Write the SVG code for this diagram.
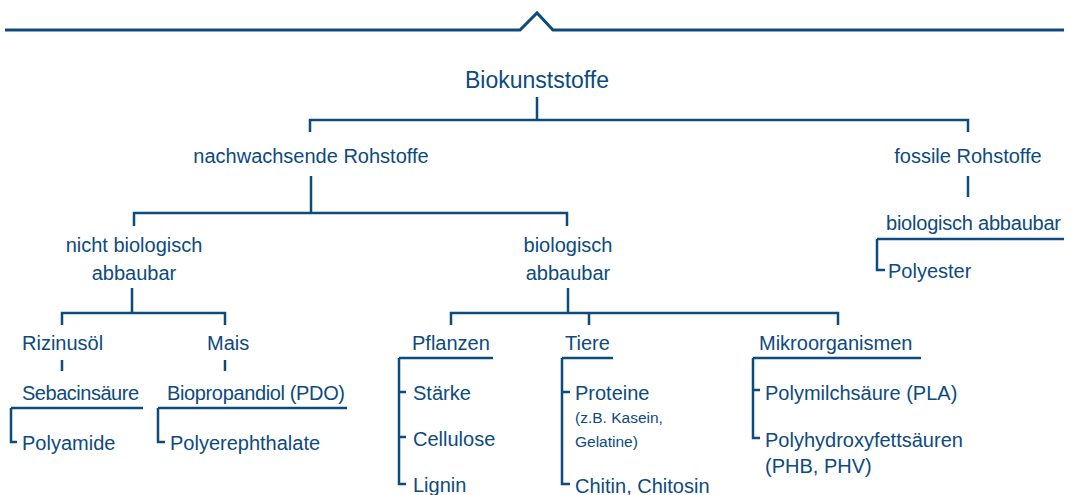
<svg xmlns="http://www.w3.org/2000/svg" width="1071" height="495" viewBox="0 0 1071 495">
<style>
text{font-family:"Liberation Sans",Arial,sans-serif;fill:#0d4a7e;font-size:20px}
.c{text-anchor:middle}
.t{font-size:23px}
.s{font-size:15.5px}
.ln{fill:none;stroke:#0d4a7e;stroke-width:2.5;stroke-linecap:butt;stroke-linejoin:miter}
</style>
<rect width="1071" height="495" fill="#ffffff"/>
<polyline class="ln" style="stroke-width:3" points="5,30 520,30 537,13 553,30 1064,30"/>
<g id="connectors">
<path class="ln" d="M537 97V120M310 132V120H968V132"/>
<path class="ln" d="M311 176V213M134 226V213H567V226"/>
<path class="ln" d="M968 176V197"/>
<path class="ln" d="M877 239H1064M877 239V270H885"/>
<path class="ln" d="M132 288V313M62 325V313H225V325"/>
<path class="ln" d="M62 360V371M225 360V371"/>
<path class="ln" d="M11 408H143M11 408V442H17M158 408H347M158 408V442H165"/>
<path class="ln" d="M568 288V313M451 325V313H838V325M589 313V325"/>
<path class="ln" d="M399 358H493M399 358V484H406M399 392H406M399 437H406"/>
<path class="ln" d="M562 358H613M562 358V484H570M562 392H570"/>
<path class="ln" d="M753 358H921M753 358V438H760M753 390H760"/>
</g>
<g id="n-root"><text class="c t" x="537" y="88">Biokunststoffe</text></g>
<g id="n-nachw"><text class="c" x="311" y="163">nachwachsende Rohstoffe</text></g>
<g id="n-fossil"><text class="c" x="968" y="163">fossile Rohstoffe</text></g>
<g id="n-nicht"><text class="c" x="134" y="252">nicht biologisch</text><text class="c" x="134" y="280">abbaubar</text></g>
<g id="n-bio"><text class="c" x="568" y="252">biologisch</text><text class="c" x="568" y="280">abbaubar</text></g>
<g id="n-fbio"><text x="886" y="230" textLength="175">biologisch abbaubar</text></g>
<g id="n-polyester"><text x="888" y="278">Polyester</text></g>
<g id="n-rizinus"><text x="22" y="350">Rizinusöl</text></g>
<g id="n-mais"><text x="207" y="350">Mais</text></g>
<g id="n-sebacin"><text x="22" y="400" textLength="117">Sebacinsäure</text></g>
<g id="n-biopdo"><text x="167" y="400" textLength="178">Biopropandiol (PDO)</text></g>
<g id="n-polyamide"><text x="22" y="450">Polyamide</text></g>
<g id="n-polyere"><text x="170" y="450">Polyerephthalate</text></g>
<g id="n-pflanzen"><text x="412" y="350">Pflanzen</text></g>
<g id="n-tiere"><text x="565" y="350">Tiere</text></g>
<g id="n-mikro"><text x="759" y="350">Mikroorganismen</text></g>
<g id="n-staerke"><text x="413" y="400">Stärke</text></g>
<g id="n-cellulose"><text x="413" y="446">Cellulose</text></g>
<g id="n-lignin"><text x="413" y="492">Lignin</text></g>
<g id="n-proteine"><text x="575" y="400">Proteine</text><text class="s" x="575" y="423">(z.B. Kasein,</text><text class="s" x="575" y="447">Gelatine)</text></g>
<g id="n-chitin"><text x="575" y="493">Chitin, Chitosin</text></g>
<g id="n-pla"><text x="765" y="400">Polymilchsäure (PLA)</text></g>
<g id="n-pha"><text x="765" y="447">Polyhydroxyfettsäuren</text><text x="765" y="473">(PHB, PHV)</text></g>
</svg>
